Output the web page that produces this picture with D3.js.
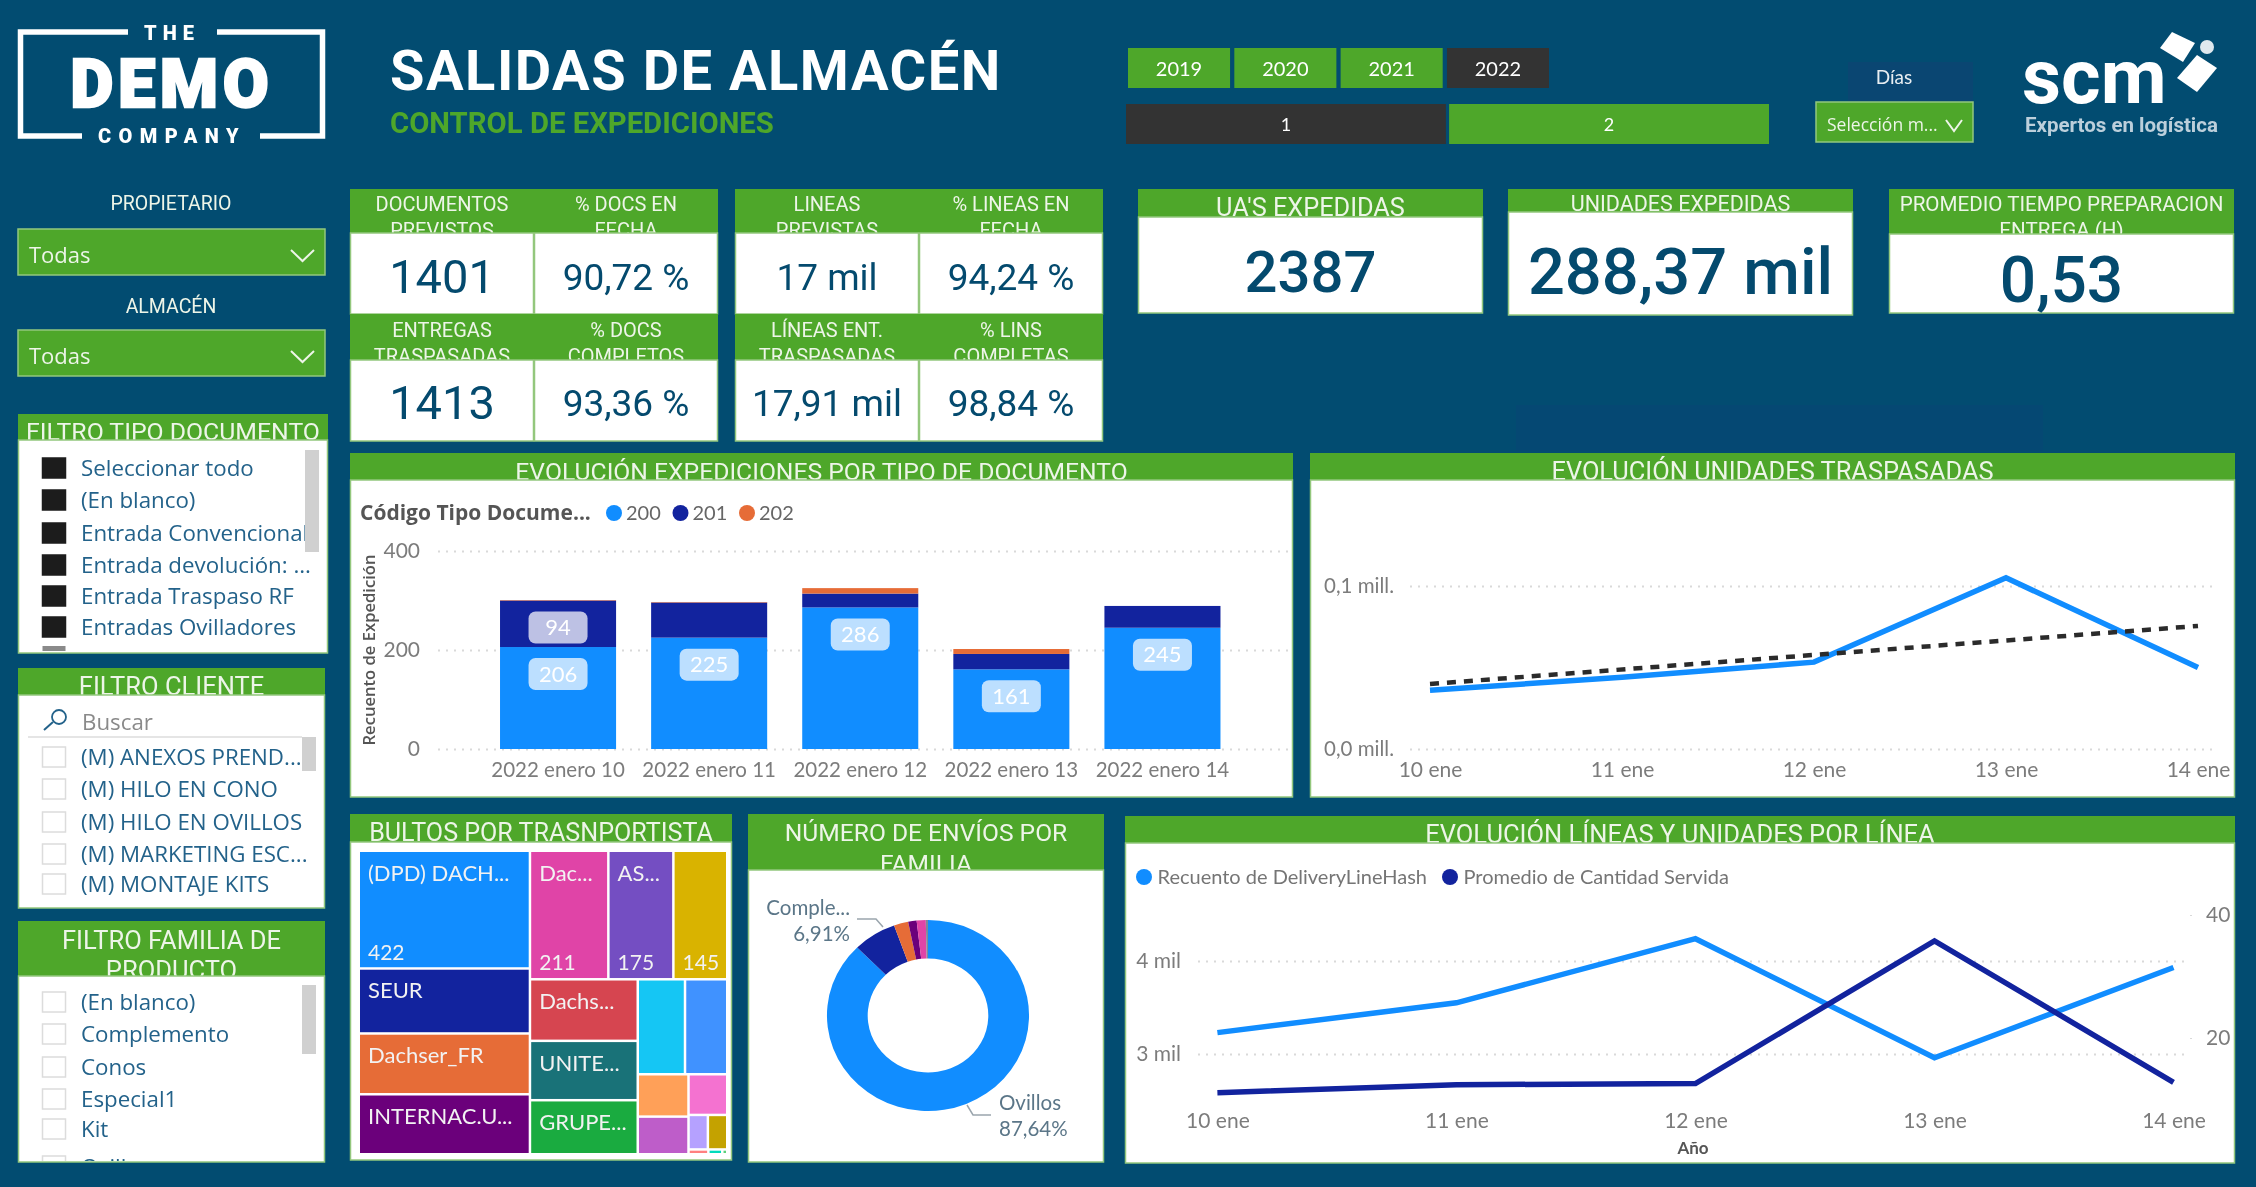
<!DOCTYPE html>
<html>
<head>
<meta charset="utf-8">
<title>Salidas de almacén</title>
<script src="https://cdn.jsdelivr.net/npm/d3@7"></script>
<style>
  html, body { margin: 0; padding: 0; background: #024c71; overflow: hidden; }
  svg { display: block; filter: blur(.6px); }
</style>
</head>
<body>
<div id="dash"></div>
<script>
//--------------------------------------------------
// Datos
//--------------------------------------------------
const kpiTitles = [
  ["DOCUMENTOS", "PREVISTOS"], ["% DOCS EN", "FECHA"], ["LINEAS", "PREVISTAS"], ["% LINEAS EN", "FECHA"],
  ["ENTREGAS", "TRASPASADAS"], ["% DOCS", "COMPLETOS"], ["LÍNEAS ENT.", "TRASPASADAS"], ["% LINS", "COMPLETAS"]
];
const kpiValues = ["1401", "90,72 %", "17 mil", "94,24 %", "1413", "93,36 %", "17,91 mil", "98,84 %"];

const bigTitles = [["UA'S EXPEDIDAS"], ["UNIDADES EXPEDIDAS"], ["PROMEDIO TIEMPO PREPARACION", "ENTREGA (H)"]];
const bigValues = ["2387", "288,37 mil", "0,53"];

const years = ["2019", "2020", "2021", "2022"];
const semesters = ["1", "2"];

const tipoItems = ["Seleccionar todo", "(En blanco)", "Entrada Convencional", "Entrada devolución: ...", "Entrada Traspaso RF", "Entradas Ovilladores"];
const clienteItems = ["(M) ANEXOS PREND...", "(M) HILO EN CONO", "(M) HILO EN OVILLOS", "(M) MARKETING ESC...", "(M) MONTAJE KITS"];
const familiaItems = ["(En blanco)", "Complemento", "Conos", "Especial1", "Kit"];

const barDays = ["2022 enero 10", "2022 enero 11", "2022 enero 12", "2022 enero 13", "2022 enero 14"];
const docTypes = ["200", "201", "202"];
const docs200 = [206, 225, 286, 161, 245];
const docs201 = [94, 71, 28, 31, 44];
const docs202 = [1, 1, 11, 10, 0];

const days = ["10 ene", "11 ene", "12 ene", "13 ene", "14 ene"];
const unidades = [36000, 44000, 53300, 105000, 50000];
const unidadesTrendDays = ["10 ene", "14 ene"];
const unidadesTrend = [39900, 75500];

const lineasSeries = ["Recuento de DeliveryLineHash", "Promedio de Cantidad Servida"];
const lineas = [3230, 3550, 4240, 2960, 3930];
const cantidad = [11.1, 12.4, 12.6, 35.8, 12.8];

const tmNames = ["(DPD) DACH...", "SEUR", "Dachser_FR", "INTERNAC.U...", "Dac...", "AS...", "", "Dachs...", "UNITE...", "GRUPE...",
  "", "", "", "", "", "", "", "", "", ""];
const tmValues = [422, 233, 218, 215, 211, 175, 145, 139, 134, 122, 94, 84, 45, 40, 33, 14, 14, 2, 1.4, 0.5];
const tmValueShown = [0, 4, 5, 6];
// como se anidan los bloques del treemap (indices de tmValues)
const tmNest = [[0, 1, 2, 3], [[4, 5, 6], [[7, 8, 9], [[10, 11], [[12, 13], [14, [15, 16], [17, 18, 19]]]]]]];

const familias = ["Ovillos", "Complemento", "Conos", "Kit", "Especial1", "(En blanco)"];
const familiaPct = [87.64, 6.91, 2.3, 1.35, 1.45, 0.35];

//--------------------------------------------------
// Estilo
//--------------------------------------------------
const BG = "#024c71";
const GREEN = "#4ea72a";
const GREEN_EDGE = "#93c77d";
const DARK = "#333333";
const INK = "#044a6e";
const SLICER_TXT = "#23628a";
const AXIS_TXT = "#7c7c7c";
const GRID = "#d9d9d9";
const HEAD_TXT = "#edf5e8";
const DIN = "Roboto, sans-serif";
const SEGOE = "'Open Sans', sans-serif";
const AXISF = "Lato, sans-serif";
const PALETTE = ["#118DFF", "#12239E", "#E66C37", "#6B007B", "#E044A7", "#744EC2", "#D9B300", "#D64550", "#197278", "#1AAB40",
  "#15C6F4", "#4092FF", "#FFA058", "#BE5DC9", "#F472D0", "#B5A1FF", "#C4A200", "#FF8080", "#00DBBC", "#5BD078"];

const W = 2256, H = 1187;
const svg = d3.select("#dash").append("svg").attr("width", W).attr("height", H).style("background", BG);

function txt(parent, x, y, s, size, fill, opts = {}) {
  return parent.append("text")
    .attr("x", x).attr("y", y).attr("dy", ".35em")
    .attr("text-anchor", opts.anchor || "middle")
    .attr("font-family", opts.font || DIN)
    .attr("font-size", size)
    .attr("font-weight", opts.weight || 400)
    .attr("letter-spacing", opts.spacing || null)
    .attr("fill", fill)
    .text(s);
}

// panel con cabecera verde; la segunda linea del titulo queda cortada por el cuerpo blanco
function panel(x0, x1, y0, yHead, y1, lines, size, lineYs) {
  const g = svg.append("g");
  g.append("rect").attr("x", x0).attr("y", y0).attr("width", x1 - x0).attr("height", yHead - y0).attr("fill", GREEN);
  lines.forEach((l, i) => txt(g, (x0 + x1) / 2, lineYs[i], l, size, HEAD_TXT));
  g.append("rect").attr("x", x0 + .5).attr("y", yHead).attr("width", x1 - x0 - 1).attr("height", y1 - yHead)
    .attr("fill", "#fff").attr("stroke", GREEN_EDGE).attr("stroke-width", 1.5);
  return g;
}

function axisStyle(g, size, fill) {
  g.select(".domain").remove();
  g.selectAll("text").attr("font-family", AXISF).attr("font-size", size).attr("fill", fill || AXIS_TXT);
}

function gridStyle(g) {
  g.selectAll("line").attr("stroke", GRID).attr("stroke-width", 2).attr("stroke-dasharray", "2 6");
}

//--------------------------------------------------
// Logos y cabecera
//--------------------------------------------------
// mancha azul apenas visible bajo las tarjetas grandes
svg.append("rect").attr("x", 1516).attr("y", 405).attr("width", 527).attr("height", 46).attr("fill", "#054873");

const logo = svg.append("g");
logo.append("path")
  .attr("d", "M128 32H20.5V136H82M260 136H322.5V32H217")
  .attr("fill", "none").attr("stroke", "#fff").attr("stroke-width", 5.5);
txt(logo, 172, 33, "THE", 20, "#fff", { weight: 900, spacing: 6 });
txt(logo, 172, 84, "DEMO", 66, "#fff", { weight: 900, spacing: 5 })
  .attr("stroke", "#fff").attr("stroke-width", 2.5);
txt(logo, 172, 136, "COMPANY", 20, "#fff", { weight: 900, spacing: 7.5 });

txt(svg, 390, 70, "SALIDAS DE ALMACÉN", 56, "#fff", { anchor: "start", weight: 700, spacing: 1.5 });
txt(svg, 390, 123, "CONTROL DE EXPEDICIONES", 29.3, GREEN, { anchor: "start", weight: 700 });

const scm = svg.append("g");
txt(scm, 2022, 76, "scm", 76, "#fff", { anchor: "start", weight: 700 });
txt(scm, 2025, 125, "Expertos en logística", 20.5, "#bccfdb", { anchor: "start", weight: 700 });
scm.selectAll("polygon")
  .data([
    "2172,32 2195,43 2183,62 2160,48",
    "2197,55 2217,68 2197,92 2177,78"
  ])
  .enter().append("polygon").attr("points", d => d).attr("fill", "#fff");
scm.append("circle").attr("cx", 2207).attr("cy", 47).attr("r", 7).attr("fill", "#dfe8ee");

// segmentadores de año y semestre
const yearX = d3.scaleBand().domain(years).range([1128, 1549]).paddingInner(0.04).paddingOuter(0);
years.forEach(y => {
  svg.append("rect").attr("x", yearX(y)).attr("y", 48).attr("width", yearX.bandwidth()).attr("height", 40)
    .attr("fill", y === "2022" ? DARK : GREEN);
  txt(svg, yearX(y) + yearX.bandwidth() / 2, 69, y, 20, "#fff", { font: AXISF });
});
const semX = d3.scaleBand().domain(semesters).range([1126, 1769]).paddingInner(0.01).paddingOuter(0);
semesters.forEach(s => {
  svg.append("rect").attr("x", semX(s)).attr("y", 104).attr("width", semX.bandwidth()).attr("height", 40)
    .attr("fill", s === "1" ? DARK : GREEN);
  txt(svg, semX(s) + semX.bandwidth() / 2, 125, s, 18, "#fff", { font: AXISF });
});

svg.append("rect").attr("x", 1848).attr("y", 62).attr("width", 125).attr("height", 40).attr("fill", "#0a4672");
txt(svg, 1894, 77, "Días", 19, "#e8eef2", { font: AXISF });
function dropdown(x0, x1, y0, y1, label, size, chevX, chevW) {
  const cy = (y0 + y1) / 2 + 3;
  svg.append("rect").attr("x", x0).attr("y", y0).attr("width", x1 - x0).attr("height", y1 - y0)
    .attr("fill", GREEN).attr("stroke", GREEN_EDGE).attr("stroke-width", 1.5);
  txt(svg, x0 + 11, cy, label, size, HEAD_TXT, { anchor: "start", font: SEGOE });
  svg.append("path")
    .attr("d", `M${chevX} ${cy - 5}L${chevX + chevW / 2} ${cy + 6}L${chevX + chevW} ${cy - 5}`)
    .attr("fill", "none").attr("stroke", HEAD_TXT).attr("stroke-width", 2);
}
dropdown(1816, 1973, 102, 142, "Selección m...", 17.5, 1946, 16);

txt(svg, 171, 203, "PROPIETARIO", 19.5, HEAD_TXT);
dropdown(18, 325, 229, 275, "Todas", 22, 291, 23);
txt(svg, 171, 306, "ALMACÉN", 19.5, HEAD_TXT);
dropdown(18, 325, 330, 376, "Todas", 22, 291, 23);

//--------------------------------------------------
// Tarjetas
//--------------------------------------------------
const kpiCols = [[350, 534], [534, 718], [735, 919], [919, 1103]];
const kpiRows = [
  { y0: 189, head: 233, y1: 314, lines: [204, 230], val: 277 },
  { y0: 314, head: 360, y1: 441, lines: [330, 356], val: 403 }
];
kpiValues.forEach((v, i) => {
  const c = kpiCols[i % 4], r = kpiRows[Math.floor(i / 4)];
  const g = panel(c[0], c[1], r.y0, r.head, r.y1, kpiTitles[i], 20, r.lines);
  // los numeros enteros de la primera columna van mas grandes
  txt(g, (c[0] + c[1]) / 2, r.val, v, i % 4 === 0 && v.length === 4 ? 47 : 37, INK);
});

const bigBoxes = [
  { x0: 1138, x1: 1483, head: 217, y1: 313, size: 25.3, lines: [207], val: 272, vs: 58 },
  { x0: 1508, x1: 1853, head: 212, y1: 315, size: 21.5, lines: [203], val: 271, vs: 65 },
  { x0: 1889, x1: 2234, head: 234, y1: 313, size: 20.6, lines: [204, 230], val: 280, vs: 64 }
];
bigValues.forEach((v, i) => {
  const b = bigBoxes[i];
  const g = panel(b.x0, b.x1, 189, b.head, b.y1, bigTitles[i], b.size, b.lines);
  txt(g, (b.x0 + b.x1) / 2, b.val, v, b.vs, INK, { weight: 500 });
});

//--------------------------------------------------
// Filtros
//--------------------------------------------------
const SLICER_SIZE = 22.3;
function slicerList(items, ys, checked) {
  items.forEach((t, i) => {
    svg.append("rect").attr("x", 42.5).attr("y", ys[i] - 10).attr("width", 23).attr("height", 20)
      .attr("fill", checked ? "#1c1c1c" : "#fff").attr("stroke", checked ? "#1c1c1c" : "#dcdcdc").attr("stroke-width", 1.5);
    txt(svg, 81, ys[i], t, SLICER_SIZE, SLICER_TXT, { anchor: "start", font: SEGOE });
  });
}
function scrollThumb(x, y0, y1) {
  svg.append("rect").attr("x", x).attr("y", y0).attr("width", 14).attr("height", y1 - y0).attr("fill", "#d0d0d0");
}

panel(18, 328, 414, 440, 653, ["FILTRO TIPO DOCUMENTO"], 24.8, [431]);
slicerList(tipoItems, [468, 500, 533, 565, 596, 627], true);
svg.append("rect").attr("x", 42.5).attr("y", 646).attr("width", 23).attr("height", 5).attr("fill", "#8a8a8a");
scrollThumb(305, 450, 552);

panel(18, 325, 668, 695, 908, ["FILTRO CLIENTE"], 25.5, [686]);
svg.append("circle").attr("cx", 59).attr("cy", 717).attr("r", 7).attr("fill", "none").attr("stroke", SLICER_TXT).attr("stroke-width", 1.8);
svg.append("path").attr("d", "M53 722L44 730").attr("stroke", SLICER_TXT).attr("stroke-width", 2);
txt(svg, 82, 722, "Buscar", SLICER_SIZE, "#8a8a8a", { anchor: "start", font: SEGOE });
svg.append("line").attr("x1", 28).attr("x2", 302).attr("y1", 737).attr("y2", 737).attr("stroke", "#dcdcdc").attr("stroke-width", 1.5);
slicerList(clienteItems, [757, 789, 822, 854, 884], false);
scrollThumb(302, 737, 771);

panel(18, 325, 921, 976, 1162, ["FILTRO FAMILIA DE", "PRODUCTO"], 25.5, [940, 970]);
slicerList(familiaItems, [1002, 1034, 1067, 1099, 1129], false);
svg.append("clipPath").attr("id", "clip-fam").append("rect").attr("x", 18).attr("y", 1150).attr("width", 300).attr("height", 11);
const famClip = svg.append("g").attr("clip-path", "url(#clip-fam)");
famClip.append("rect").attr("x", 42.5).attr("y", 1156).attr("width", 23).attr("height", 20).attr("fill", "#fff").attr("stroke", "#dcdcdc").attr("stroke-width", 1.5);
txt(famClip, 81, 1167, "Ovillos", SLICER_SIZE, SLICER_TXT, { anchor: "start", font: SEGOE });
scrollThumb(302, 985, 1054);

//--------------------------------------------------
// Barras apiladas
//--------------------------------------------------
panel(350, 1293, 453, 480, 797, ["EVOLUCIÓN EXPEDICIONES POR TIPO DE DOCUMENTO"], 24.7, [471]);

const barX = d3.scaleBand().domain(barDays).range([482.5, 1238]).paddingInner(0.232).paddingOuter(0.116);
const barY = d3.scaleLinear().domain([0, 400]).range([749, 551]);

const gridB = svg.append("g").attr("transform", "translate(438,0)")
  .call(d3.axisLeft(barY).tickValues([0, 200, 400]).tickSize(-851).tickPadding(18));
axisStyle(gridB, 21); gridStyle(gridB);

const barTable = barDays.map((d, i) => ({ day: d, "200": docs200[i], "201": docs201[i], "202": docs202[i] }));
const stacked = d3.stack().keys(docTypes)(barTable);
const docColor = d3.scaleOrdinal().domain(docTypes).range(PALETTE);

const layers = svg.append("g").selectAll("g").data(stacked).enter().append("g").attr("fill", d => docColor(d.key));
layers.selectAll("rect").data(d => d).enter().append("rect")
  .attr("x", d => barX(d.data.day))
  .attr("width", barX.bandwidth())
  .attr("y", d => barY(d[1]))
  .attr("height", d => barY(d[0]) - barY(d[1]));

// etiquetas "inside end", solo si caben en el segmento
stacked.forEach(layer => layer.forEach(d => {
  const h = barY(d[0]) - barY(d[1]);
  if (h < 40) return;
  const cx = barX(d.data.day) + barX.bandwidth() / 2, cy = barY(d[1]) + 27;
  svg.append("rect").attr("x", cx - 29.5).attr("y", cy - 16).attr("width", 59).attr("height", 32).attr("rx", 7)
    .attr("fill", "#fff").attr("fill-opacity", 0.72);
  txt(svg, cx, cy, d[1] - d[0], 22, "#fff", { font: AXISF });
}));

const xB = svg.append("g").attr("transform", "translate(0,749)")
  .call(d3.axisBottom(barX).tickSize(0).tickPadding(13));
axisStyle(xB, 20.5);

txt(svg, 369, 650, "Recuento de Expedición", 16.6, "#555", { font: SEGOE, weight: 600 })
  .attr("transform", "rotate(-90,369,650)");

txt(svg, 360, 513, "Código Tipo Docume...", 21, "#555", { anchor: "start", font: SEGOE, weight: 700 });
docTypes.forEach((t, i) => {
  svg.append("circle").attr("cx", 614 + i * 66.5).attr("cy", 513).attr("r", 8).attr("fill", docColor(t));
  txt(svg, 626 + i * 66.5, 513, t, 20, "#666", { anchor: "start", font: AXISF });
});

//--------------------------------------------------
// Unidades traspasadas
//--------------------------------------------------
panel(1310, 2235, 453, 480, 797, ["EVOLUCIÓN UNIDADES TRASPASADAS"], 25.4, [471]);

const uX = d3.scalePoint().domain(days).range([1430, 2198]);
const uY = d3.scaleLinear().domain([0, 100000]).range([749, 586]);

const gridU = svg.append("g").attr("transform", "translate(1410,0)")
  .call(d3.axisLeft(uY).tickValues([0, 100000]).tickSize(-808).tickPadding(16)
    .tickFormat(d => (d / 1e6).toFixed(1).replace(".", ",") + " mill."));
axisStyle(gridU, 20.5); gridStyle(gridU);

const xU = svg.append("g").attr("transform", "translate(0,749)")
  .call(d3.axisBottom(uX).tickSize(0).tickPadding(13));
axisStyle(xU, 21);

svg.append("path").datum(unidades)
  .attr("d", d3.line().x((d, i) => uX(days[i])).y(d => uY(d)))
  .attr("fill", "none").attr("stroke", PALETTE[0]).attr("stroke-width", 5.5);

svg.append("path").datum(unidadesTrend)
  .attr("d", d3.line().x((d, i) => uX(unidadesTrendDays[i])).y(d => uY(d)))
  .attr("fill", "none").attr("stroke", "#2b2b2b").attr("stroke-width", 4.5).attr("stroke-dasharray", "9 8");

//--------------------------------------------------
// Treemap
//--------------------------------------------------
panel(350, 732, 814, 842, 1160, ["BULTOS POR TRASNPORTISTA"], 25.1, [832]);

const tmRoot = d3.hierarchy(tmNest, d => Array.isArray(d) ? d : null)
  .sum(d => Array.isArray(d) ? 0 : tmValues[d]);
d3.treemap()
  .size([366, 301])
  .paddingInner(2.5)
  .tile((node, x0, y0, x1, y1) => (node.depth % 2 ? d3.treemapSlice : d3.treemapDice)(node, x0, y0, x1, y1))(tmRoot);

const tm = svg.append("g").attr("transform", "translate(360,852)");
const tiles = tm.selectAll("g").data(tmRoot.leaves()).enter().append("g")
  .attr("transform", d => `translate(${d.x0},${d.y0})`);
tiles.append("rect")
  .attr("width", d => d.x1 - d.x0)
  .attr("height", d => d.y1 - d.y0)
  .attr("fill", d => PALETTE[d.data]);
tiles.append("text")
  .attr("x", 8).attr("y", 21).attr("dy", ".35em")
  .attr("font-family", AXISF).attr("font-size", 22).attr("fill", "#f2f2f2")
  .text(d => tmNames[d.data]);
tiles.filter(d => tmValueShown.includes(d.data)).append("text")
  .attr("x", 8).attr("y", d => d.y1 - d.y0 - 15).attr("dy", ".35em")
  .attr("font-family", AXISF).attr("font-size", 21).attr("fill", "#f2f2f2")
  .text(d => tmValues[d.data]);

//--------------------------------------------------
// Anillo
//--------------------------------------------------
panel(748, 1104, 814, 870, 1162, ["NÚMERO DE ENVÍOS POR", "FAMILIA"], 24.6, [832, 863]);

const donut = svg.append("g").attr("transform", "translate(928,1015.5) scale(1.058,1)");
const donutColors = [PALETTE[0], PALETTE[1], PALETTE[2], PALETTE[3], PALETTE[4], "#7d8a99"];
donut.selectAll("path")
  .data(d3.pie().sort(null).value(d => d)(familiaPct))
  .enter().append("path")
  .attr("d", d3.arc().innerRadius(57).outerRadius(95.5))
  .attr("fill", (d, i) => donutColors[i]);

const LABEL = "#5b7688";
txt(svg, 850, 908, familias[1].slice(0, 6) + "...", 20.5, LABEL, { anchor: "end", font: AXISF });
txt(svg, 850, 934, (familiaPct[1] + "%").replace(".", ","), 20.5, LABEL, { anchor: "end", font: AXISF });
txt(svg, 999, 1103, familias[0], 20.5, LABEL, { anchor: "start", font: AXISF });
txt(svg, 999, 1129, (familiaPct[0] + "%").replace(".", ","), 20.5, LABEL, { anchor: "start", font: AXISF });
svg.append("path").attr("d", "M857 919H876L883 927M967 1105L973 1115H991")
  .attr("fill", "none").attr("stroke", "#9aa5ad").attr("stroke-width", 1.5);

//--------------------------------------------------
// Lineas y unidades por linea
//--------------------------------------------------
panel(1125, 2235, 816, 843, 1163, ["EVOLUCIÓN LÍNEAS Y UNIDADES POR LÍNEA"], 25.5, [834]);

const lX = d3.scalePoint().domain(days).range([1217.4, 2173.5]);
const lY = d3.scaleLinear().domain([3000, 4000]).range([1054, 961]);
const rY = d3.scaleLinear().domain([20, 40]).range([1038, 915]);

const gridL = svg.append("g").attr("transform", "translate(1198,0)")
  .call(d3.axisLeft(lY).tickValues([3000, 4000]).tickSize(-986).tickPadding(17).tickFormat(d => d / 1000 + " mil"));
axisStyle(gridL, 21); gridStyle(gridL);

const axisR = svg.append("g").attr("transform", "translate(2190,0)")
  .call(d3.axisRight(rY).tickValues([20, 40]).tickSize(2).tickPadding(14));
axisStyle(axisR, 21); axisR.selectAll("line").attr("stroke", GRID);

const xL = svg.append("g").attr("transform", "translate(0,1100)")
  .call(d3.axisBottom(lX).tickSize(0).tickPadding(13));
axisStyle(xL, 21);
txt(svg, 1693, 1148, "Año", 17, "#555", { font: AXISF, weight: 700 });

svg.append("path").datum(lineas)
  .attr("d", d3.line().x((d, i) => lX(days[i])).y(d => lY(d)))
  .attr("fill", "none").attr("stroke", PALETTE[0]).attr("stroke-width", 5.5);
svg.append("path").datum(cantidad)
  .attr("d", d3.line().x((d, i) => lX(days[i])).y(d => rY(d)))
  .attr("fill", "none").attr("stroke", PALETTE[1]).attr("stroke-width", 5.5);

[1144, 1450].forEach((x, i) => {
  svg.append("circle").attr("cx", x).attr("cy", 877).attr("r", 8).attr("fill", PALETTE[i]);
  txt(svg, x + 13.5, 877, lineasSeries[i], 20, "#757575", { anchor: "start", font: AXISF });
});
</script>
</body>
</html>
